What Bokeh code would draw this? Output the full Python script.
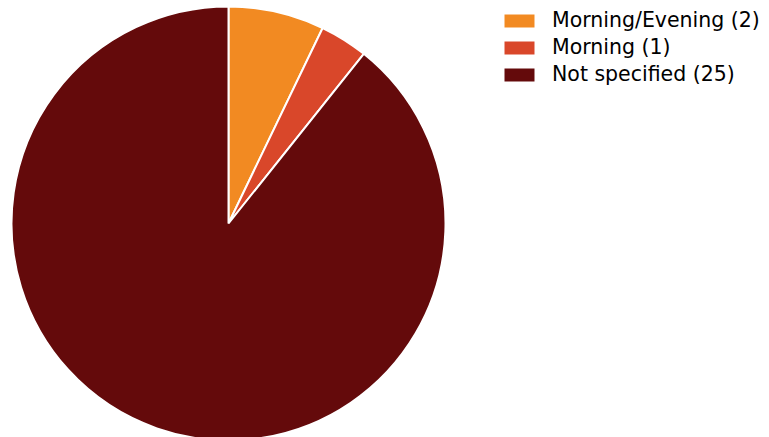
import numpy as np
from bokeh.plotting import figure
from bokeh.models import ColumnDataSource, Range1d
from bokeh.embed import file_html
from bokeh.resources import INLINE

labels = ["Morning/Evening (2)", "Morning (1)", "Not specified (25)"]
counts = [2, 1, 25]
colors = ["#F28A22", "#D9472A", "#640A0B"]

W, H = 769, 437
cx, cy, r = 228, H - 223, 217

frac = np.array(counts, dtype=float) / sum(counts)
ends = np.pi / 2 - 2 * np.pi * np.cumsum(frac)
starts = np.concatenate([[np.pi / 2], ends[:-1]])

src = ColumnDataSource(dict(
    x=[cx] * len(counts), y=[cy] * len(counts),
    start=starts, end=ends, color=colors, label=labels,
))

p = figure(width=W, height=H, output_backend="svg", toolbar_location=None,
           x_range=Range1d(0, W), y_range=Range1d(0, H),
           min_border=0, outline_line_color=None)
p.axis.visible = False
p.grid.visible = False

p.wedge(x="x", y="y", radius=r, start_angle="start", end_angle="end",
        direction="clock", fill_color="color", line_color="white",
        line_width=2, legend_field="label", source=src)

lg = p.legend[0]
lg.location = (499, 351)
lg.padding = 0
lg.margin = 0
lg.spacing = 3
lg.glyph_width = 40
lg.glyph_height = 19
lg.label_standoff = 13
lg.label_text_font = "DejaVu Sans"
lg.label_text_font_size = "20.5px"
lg.label_text_color = "#000000"
lg.border_line_color = None
lg.background_fill_alpha = 0

open("out.html", "w").write(file_html(p, INLINE))
